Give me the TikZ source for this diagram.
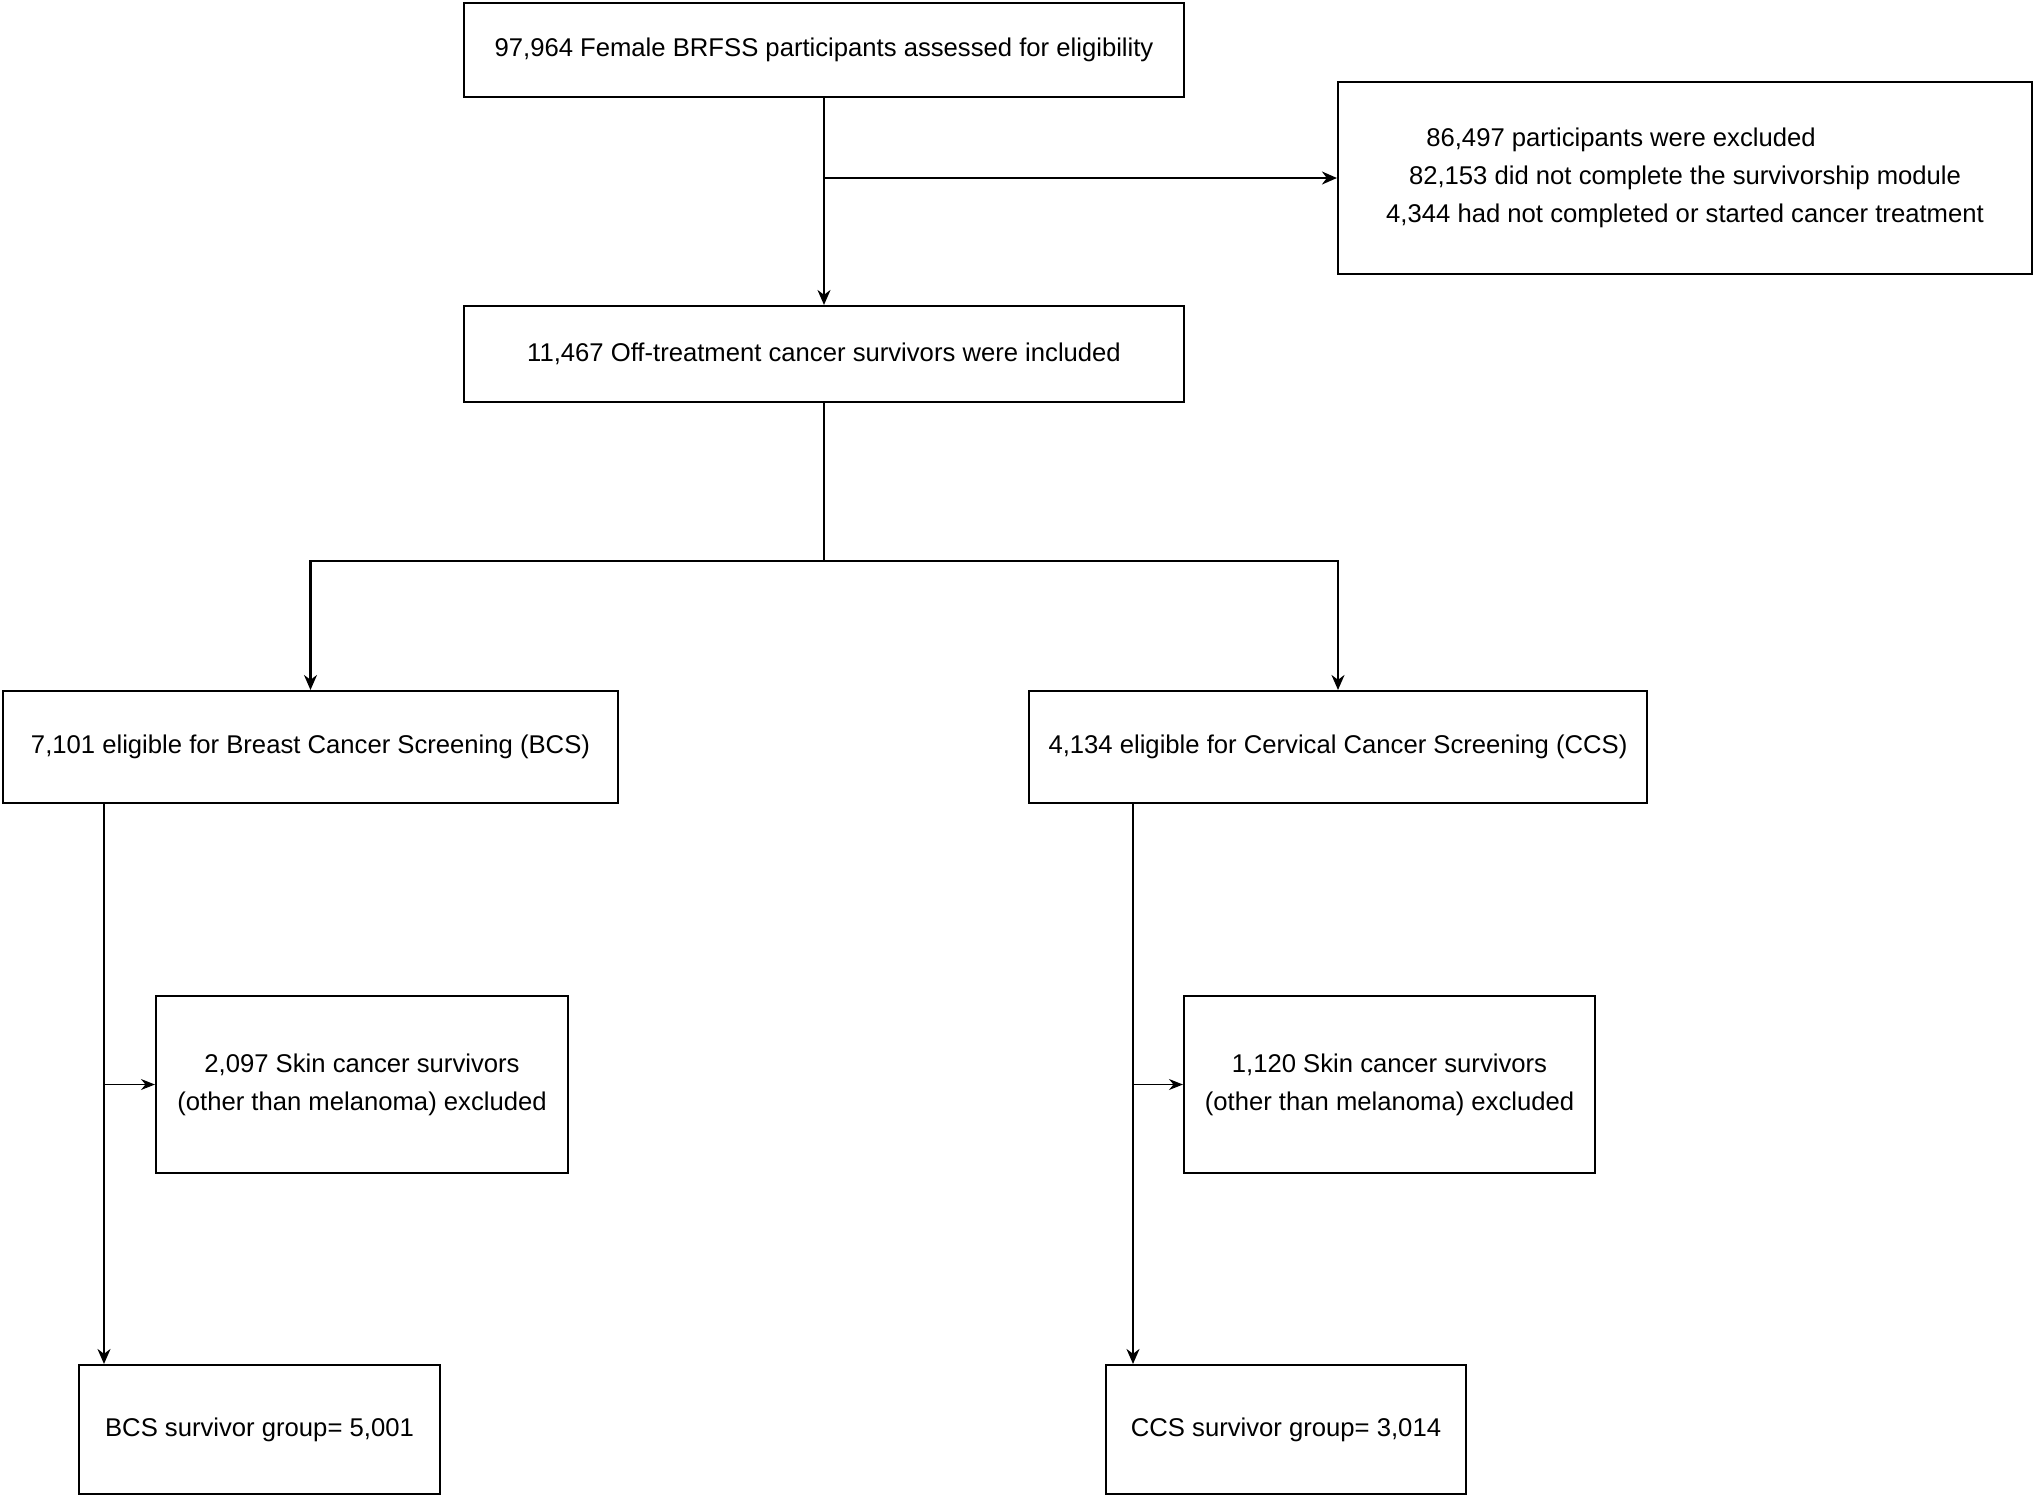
\documentclass[tikz,border=0pt]{standalone}
\usepackage{fontspec}
\setmainfont{Liberation Sans}
\usetikzlibrary{arrows.meta}

\begin{document}
\begin{tikzpicture}[x=0.1mm, y=-0.1mm,
		box/.style={draw, rectangle, line width=0.6pt, align=center, inner sep=0pt, font=\fontsize{7.3}{10.8}\selectfont},
		flow/.style={line width=0.6pt, -{Stealth[length=1.5mm, width=1.3mm]}},
		side/.style={line width=0.35pt, -{Stealth[length=1.4mm, width=1.1mm]}}]
	\useasboundingbox (0,0) rectangle (2033,1496);
	\node[box, minimum width=72mm, minimum height=9.4mm] (elig) at (824, 50) {97,964 Female BRFSS participants assessed for eligibility};
	\node[box, minimum width=69.4mm, minimum height=19.2mm] (excl) at (1685, 178) {86,497 participants were excluded\hspace*{12.8mm}\\ 82,153 did not complete the survivorship module\\ 4,344 had not completed or started cancer treatment};
	\node[box, minimum width=72mm, minimum height=9.6mm] (incl) at (824, 354) {11,467 Off-treatment cancer survivors were included};
	\node[box, minimum width=61.5mm, minimum height=11.2mm] (bcs) at (310.5, 747) {7,101 eligible for Breast Cancer Screening (BCS)};
	\node[box, minimum width=61.8mm, minimum height=11.2mm] (ccs) at (1338, 747) {4,134 eligible for Cervical Cancer Screening (CCS)};
	\node[box, minimum width=41.2mm, minimum height=17.7mm] (skinA) at (362, 1084.5) {2,097 Skin cancer survivors\\ (other than melanoma) excluded};
	\node[box, minimum width=41.1mm, minimum height=17.7mm] (skinB) at (1389.5, 1084.5) {1,120 Skin cancer survivors\\ (other than melanoma) excluded};
	\node[box, minimum width=36.1mm, minimum height=12.9mm] (grpA) at (259.5, 1429.5) {BCS survivor group= 5,001};
	\node[box, minimum width=36mm, minimum height=12.9mm] (grpB) at (1286, 1429.5) {CCS survivor group= 3,014};

	\coordinate (split) at (824, 561);
	\coordinate (bcsdown) at (104, 803);
	\coordinate (ccsdown) at (1133, 803);

	\draw[flow] (elig) -- (incl);
	\draw[flow] (elig.south |- excl.west) -- (excl.west);
	\draw[line width=0.6pt] (incl) -- (split);
	\draw[flow] (split) -| (bcs.north);
	\draw[flow] (split) -| (ccs.north);
	\draw[flow] (bcsdown) -- (bcsdown |- grpA.north);
	\draw[flow] (ccsdown) -- (ccsdown |- grpB.north);
	\draw[side] (bcsdown |- skinA.west) -- (skinA.west);
	\draw[side] (ccsdown |- skinB.west) -- (skinB.west);
\end{tikzpicture}
\end{document}
